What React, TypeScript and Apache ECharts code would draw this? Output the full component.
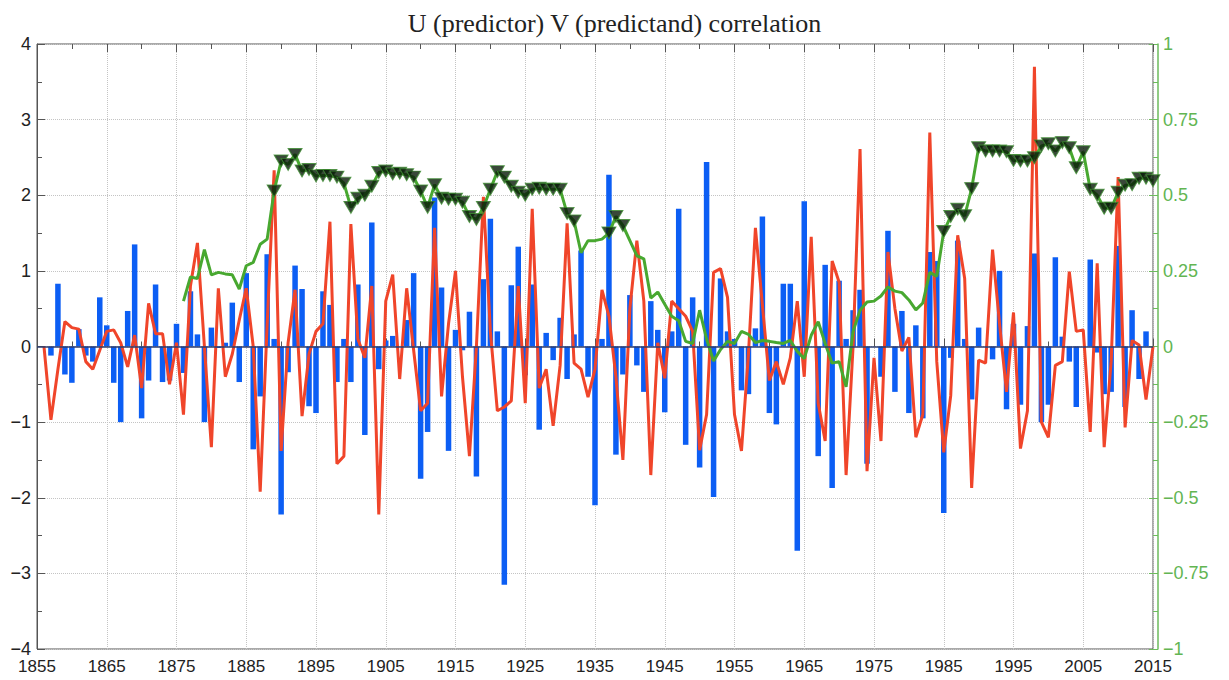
import React, { useEffect, useRef } from "react";
import * as echarts from "echarts";

const TITLE = "U (predictor) V (predictand) correlation";
const X_START = 1855;
const X_END = 2015;

// Blue bars (U predictor), one per year from BLUE_START
const BLUE_START = 1857;
const blueValues = [
  -0.12, 0.83, -0.37, -0.48, 0.23, -0.12, -0.2, 0.65, 0.28, -0.48, // 1857-1866
  -1.0, 0.47, 1.35, -0.95, -0.45, 0.82, -0.47, -0.45, 0.3, -0.35, // 1867-1876
  0.73, 0.16, -1.0, 0.25, -0.02, 0.05, 0.58, -0.47, 0.97, -1.36, // 1877-1886
  -0.66, 1.22, 0.1, -2.22, -0.34, 1.07, 0.76, -0.79, -0.88, 0.73, // 1887-1896
  0.55, -0.47, 0.1, -0.47, 0.82, -1.17, 1.64, -0.3, 0.08, 0.14, // 1897-1906
  0.0, 0.35, 0.97, -1.75, -1.13, 1.97, 0.78, -1.38, 0.22, -0.05, // 1907-1916
  0.46, -1.72, 0.89, 1.69, 0.2, -3.15, 0.81, 1.32, -0.38, 0.82, // 1917-1926
  -1.1, 0.18, -0.18, 0.38, -0.43, 0.16, 1.27, -0.4, -2.1, 0.1, // 1927-1936
  2.27, -1.43, -0.37, 0.68, -0.25, -0.6, 0.6, 0.22, -0.87, 0.2, // 1937-1946
  1.82, -1.3, 0.65, -1.6, 2.44, -1.99, 0.9, 0.2, 0.1, -0.58, // 1947-1956
  -0.63, 0.24, 1.72, -0.88, -1.03, 0.83, 0.83, -2.7, 1.92, 0.0, // 1957-1966
  -1.45, 1.08, -1.87, 0.87, 0.1, 0.48, 0.75, -1.55, 0.0, -0.4, // 1967-1976
  1.53, -0.6, 0.47, -0.88, 0.28, -0.95, 1.25, 1.13, -2.2, -0.15, // 1977-1986
  1.4, 0.1, -0.7, 0.25, 0.0, -0.17, 1.0, -0.83, 0.3, -0.77, // 1987-1996
  0.27, 1.23, -1.0, -0.77, 1.18, 0.13, -0.2, -0.8, 0.0, 1.15, // 1997-2006
  -0.08, -0.63, -0.6, 1.33, -0.8, 0.48, -0.43, 0.2, // 2007-2014
];

// Red line (V predictand), one per year from RED_START
const RED_START = 1856;
const redValues = [
  0, -0.97, -0.3, 0.33, 0.25, 0.23, -0.2, -0.3, -0.05, 0.2, // 1856-1865
  0.22, 0.05, -0.27, 0.15, -0.55, 0.57, 0.17, 0.17, -0.5, 0.05, // 1866-1875
  -0.9, 0.8, 1.37, 0.0, -1.33, 0.77, -0.4, -0.1, 0.35, 0.77, // 1876-1885
  0.0, -1.92, 0.3, 2.33, -1.38, 0.05, 0.75, -0.92, -0.1, 0.2, // 1886-1895
  0.3, 1.65, -1.55, -1.45, 1.62, 0.1, -0.15, 0.8, -2.22, 0.6, // 1896-1905
  0.95, -0.43, 0.77, -0.05, -0.85, -0.75, 1.57, -0.66, 0.3, 1.0, // 1906-1915
  -0.4, -1.45, 0.0, 1.98, 0.2, -0.85, -0.8, -0.72, 0.8, -0.75, // 1916-1925
  1.82, -0.55, -0.3, -1.05, -0.25, 1.63, -0.22, -0.3, -0.67, -0.3, // 1926-1935
  0.75, 0.4, -0.4, -1.5, 0.5, 1.4, 0.6, -1.7, 0.05, -0.42, // 1936-1945
  0.6, 0.5, 0.4, 0.2, -1.37, -0.9, 0.98, 1.03, 0.65, -0.9, // 1946-1955
  -1.38, -0.1, 1.57, 0.55, -0.45, -0.2, -0.5, -0.15, 0.6, -0.4, // 1956-1965
  1.45, -0.75, -1.25, 1.13, 0.85, -1.7, 0.0, 2.61, -1.65, -0.15, // 1966-1975
  -1.25, 1.25, 0.5, -0.06, 0.12, -1.2, -0.9, 2.83, -0.2, -1.4, // 1976-1985
  -0.65, 1.47, 0.9, -1.87, -0.18, -0.22, 1.28, 0.3, -0.6, 0.45, // 1986-1995
  -1.35, -0.85, 3.7, -1.0, -1.2, -0.25, -0.2, 0.99, 0.2, 0.22, // 1996-2005
  -1.13, 1.1, -1.33, -0.2, 2.24, -1.07, 0.08, 0.02, -0.7, 0, // 2006-2015
];

// Green line (running correlation, right axis), one per year from GREEN_START
const GREEN_START = 1876;
const greenValues = [
  0.15, 0.23, 0.225, 0.32, 0.237, 0.245, 0.24, 0.237, 0.19, 0.267, // 1876-1885
  0.278, 0.338, 0.355, 0.514, 0.613, 0.602, 0.635, 0.58, 0.585, 0.564, // 1886-1895
  0.565, 0.565, 0.56, 0.54, 0.46, 0.49, 0.5, 0.53, 0.575, 0.58, // 1896-1905
  0.57, 0.573, 0.568, 0.56, 0.514, 0.46, 0.535, 0.49, 0.487, 0.487, // 1906-1915
  0.477, 0.43, 0.42, 0.46, 0.52, 0.578, 0.56, 0.53, 0.51, 0.5, // 1916-1925
  0.52, 0.523, 0.52, 0.52, 0.52, 0.44, 0.415, 0.31, 0.35, 0.35, // 1926-1935
  0.355, 0.375, 0.43, 0.4, 0.35, 0.3, 0.29, 0.16, 0.18, 0.14, // 1936-1945
  0.1, 0.085, 0.017, 0.01, 0.12, 0.024, -0.048, -0.01, 0.017, 0.01, // 1946-1955
  0.05, 0.04, 0.013, 0.02, 0.017, 0.013, 0.01, 0.02, -0.016, -0.04, // 1956-1965
  0.037, 0.082, 0.01, -0.055, -0.05, -0.133, 0.05, 0.12, 0.147, 0.15, // 1966-1975
  0.167, 0.197, 0.183, 0.178, 0.154, 0.121, 0.144, 0.245, 0.232, 0.38, // 1976-1985
  0.43, 0.454, 0.432, 0.522, 0.657, 0.646, 0.646, 0.646, 0.644, 0.615, // 1986-1995
  0.613, 0.613, 0.624, 0.663, 0.67, 0.646, 0.674, 0.657, 0.591, 0.644, // 1996-2005
  0.52, 0.5, 0.457, 0.457, 0.51, 0.533, 0.535, 0.556, 0.556, 0.548, // 2006-2015
];

// Significance level above which the correlation is marked with a triangle
const SIG_LEVEL = 0.37;

const years: string[] = [];
for (let y = X_START; y <= X_END; y++) years.push(String(y));

const toPairs = (start: number, vals: number[]) =>
  vals.map((v, i) => [String(start + i), v]);

const minus = (s: string) => s.replace("-", "\u2212");

const AXIS_COLOR = "#555";
const GREEN_AXIS = "#6cbb5c";
const GRID_LINE = { show: true, lineStyle: { color: "#c4c4c4", type: "dotted" as const, width: 1 } };

export default function App() {
  const ref = useRef<HTMLDivElement>(null);

  useEffect(() => {
    document.body.style.margin = "0";
    if (!ref.current) return;
    const chart = echarts.init(ref.current, null, { renderer: "svg" });

    const baseX = {
      type: "category" as const,
      data: years,
      boundaryGap: false,
      axisLine: { show: false },
      axisLabel: { show: false },
      splitLine: { show: false },
    };

    const sigData = greenValues
      .map((v, i) => [String(GREEN_START + i), v] as [string, number])
      .filter((p) => p[1] >= SIG_LEVEL);

    chart.setOption({
      animation: false,
      backgroundColor: "#ffffff",
      title: {
        text: TITLE,
        left: "center",
        top: 5,
        textStyle: {
          fontFamily: "Liberation Serif",
          fontWeight: "normal",
          fontSize: 26,
          color: "#222",
        },
      },
      grid: {
        left: 37,
        right: 76,
        top: 44,
        bottom: 31,
        show: true,
        borderColor: AXIS_COLOR,
        borderWidth: 1,
        backgroundColor: "transparent",
      },
      xAxis: [
        {
          ...baseX,
          position: "bottom",
          axisTick: {
            show: true,
            inside: true,
            length: 8,
            interval: (i: number) => i % 10 === 0,
            lineStyle: { color: AXIS_COLOR },
          },
          axisLabel: {
            show: true,
            interval: (i: number) => i % 10 === 0,
            margin: 9,
            fontFamily: "Liberation Sans",
            fontSize: 17,
            color: "#222",
          },
          splitLine: { ...GRID_LINE, interval: (i: number) => i % 10 === 0 && i !== 0 },
        },
        {
          ...baseX,
          position: "bottom",
          axisTick: {
            show: true,
            inside: true,
            length: 5,
            interval: (i: number) => i % 10 === 5,
            lineStyle: { color: AXIS_COLOR },
          },
        },
        {
          ...baseX,
          position: "top",
          axisTick: {
            show: true,
            inside: true,
            length: 8,
            interval: (i: number) => i % 10 === 0,
            lineStyle: { color: AXIS_COLOR },
          },
        },
        {
          ...baseX,
          position: "top",
          axisTick: {
            show: true,
            inside: true,
            length: 5,
            interval: (i: number) => i % 10 === 5,
            lineStyle: { color: AXIS_COLOR },
          },
        },
      ],
      yAxis: [
        {
          type: "value",
          position: "left",
          min: -4,
          max: 4,
          interval: 1,
          axisLine: { show: true, lineStyle: { color: AXIS_COLOR } },
          axisTick: { show: true, inside: true, length: 8, lineStyle: { color: AXIS_COLOR } },
          minorTick: { show: true, splitNumber: 2, length: 5, lineStyle: { color: AXIS_COLOR } },
          axisLabel: {
            margin: 6,
            fontFamily: "Liberation Sans",
            fontSize: 18,
            color: "#222",
            formatter: (v: number) => minus(String(v)),
          },
          splitLine: GRID_LINE,
        },
        {
          type: "value",
          position: "right",
          offset: 5,
          min: -1,
          max: 1,
          interval: 0.25,
          axisLine: { show: true, lineStyle: { color: GREEN_AXIS, width: 1.5 } },
          axisTick: { show: true, inside: true, length: 9, lineStyle: { color: GREEN_AXIS } },
          minorTick: { show: true, splitNumber: 2, length: 5, lineStyle: { color: GREEN_AXIS } },
          axisLabel: {
            margin: 5,
            fontFamily: "Liberation Sans",
            fontSize: 18,
            color: "#62b552",
            formatter: (v: number) => minus(String(v)),
          },
          splitLine: { show: false },
        },
      ],
      series: [
        {
          type: "bar",
          xAxisIndex: 0,
          yAxisIndex: 0,
          data: toPairs(BLUE_START, blueValues),
          barWidth: 5.5,
          itemStyle: { color: "#0c5ef4" },
          z: 2,
          markLine: {
            silent: true,
            symbol: "none",
            label: { show: false },
            lineStyle: { color: "#2c3c6e", width: 1.5, type: "solid" },
            data: [{ yAxis: 0 }],
          },
        },
        {
          type: "line",
          xAxisIndex: 0,
          yAxisIndex: 0,
          data: toPairs(RED_START, redValues),
          symbol: "none",
          lineStyle: { color: "#f0452a", width: 3 },
          itemStyle: { color: "#f0452a" },
          z: 3,
        },
        {
          type: "line",
          xAxisIndex: 0,
          yAxisIndex: 1,
          data: toPairs(GREEN_START, greenValues),
          symbol: "none",
          lineStyle: { color: "#48a830", width: 3 },
          itemStyle: { color: "#48a830" },
          z: 4,
        },
        {
          type: "scatter",
          xAxisIndex: 0,
          yAxisIndex: 1,
          data: sigData,
          symbol: "triangle",
          symbolRotate: 180,
          symbolSize: [14, 12],
          itemStyle: { color: "#081a08", borderColor: "#3f8f32", borderWidth: 1 },
          z: 5,
        },
      ],
    });

    return () => chart.dispose();
  }, []);

  return <div ref={ref} style={{ width: 1229, height: 680 }} />;
}
